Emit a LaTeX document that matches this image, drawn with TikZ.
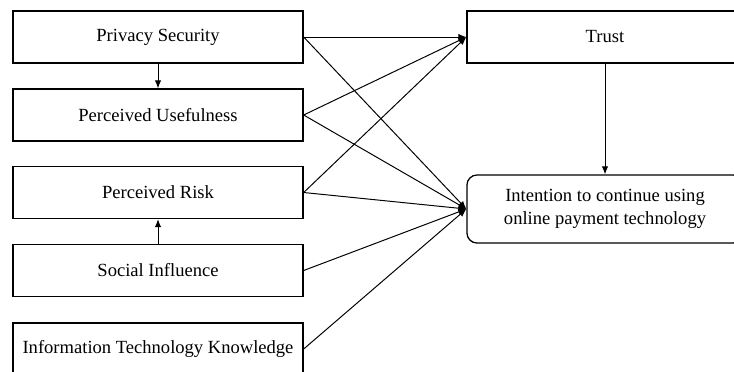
\documentclass[tikz,border=0pt]{standalone}
\usepackage{fontspec}
\setmainfont{Liberation Serif}
\usetikzlibrary{arrows.meta}
\begin{document}
\begin{tikzpicture}[x=0.025cm,y=-0.025cm]
        % Styles
        \tikzstyle{factor}=[draw,line width=0.9pt,minimum width=7.25cm,minimum height=1.3cm,inner sep=0pt,font=\fontsize{13.2}{16.3}\selectfont]
        \tikzstyle{outcome}=[factor,minimum width=6.9cm]
        \tikzstyle{path line}=[line width=0.7pt,-{Latex[length=2mm,width=1.6mm]}]
        %The graphic
        \useasboundingbox (0,0) rectangle (734,371);
        \clip (0,0) rectangle (734,371);
        %left column
        \node[factor] (ps) at (158,37) {Privacy Security};
        \node[factor] (pu) at (158,115) {Perceived Usefulness};
        \node[factor] (pr) at (158,192.5) {Perceived Risk};
        \node[factor] (si) at (158,270.5) {Social Influence};
        \node[factor] (itk) at (158,349) {Information Technology Knowledge};
        %right column
        \node[outcome] (trust) at (605,37) {Trust};
        \node[outcome,minimum height=1.7cm,rounded corners=0.25cm,align=center] (int) at (605,209) {Intention to continue using\\online payment technology};
        %paths
        \draw[path line] (ps) -- (pu);
        \draw[path line] (si) -- (pr);
        \draw[path line] (trust) -- (int);
        \foreach \from in {ps,pu,pr}
            \draw[path line] (\from.east) -- (trust.west);
        \foreach \from in {ps,pu,pr,si,itk}
            \draw[path line] (\from.east) -- (int.west);
    \end{tikzpicture}
\end{document}
